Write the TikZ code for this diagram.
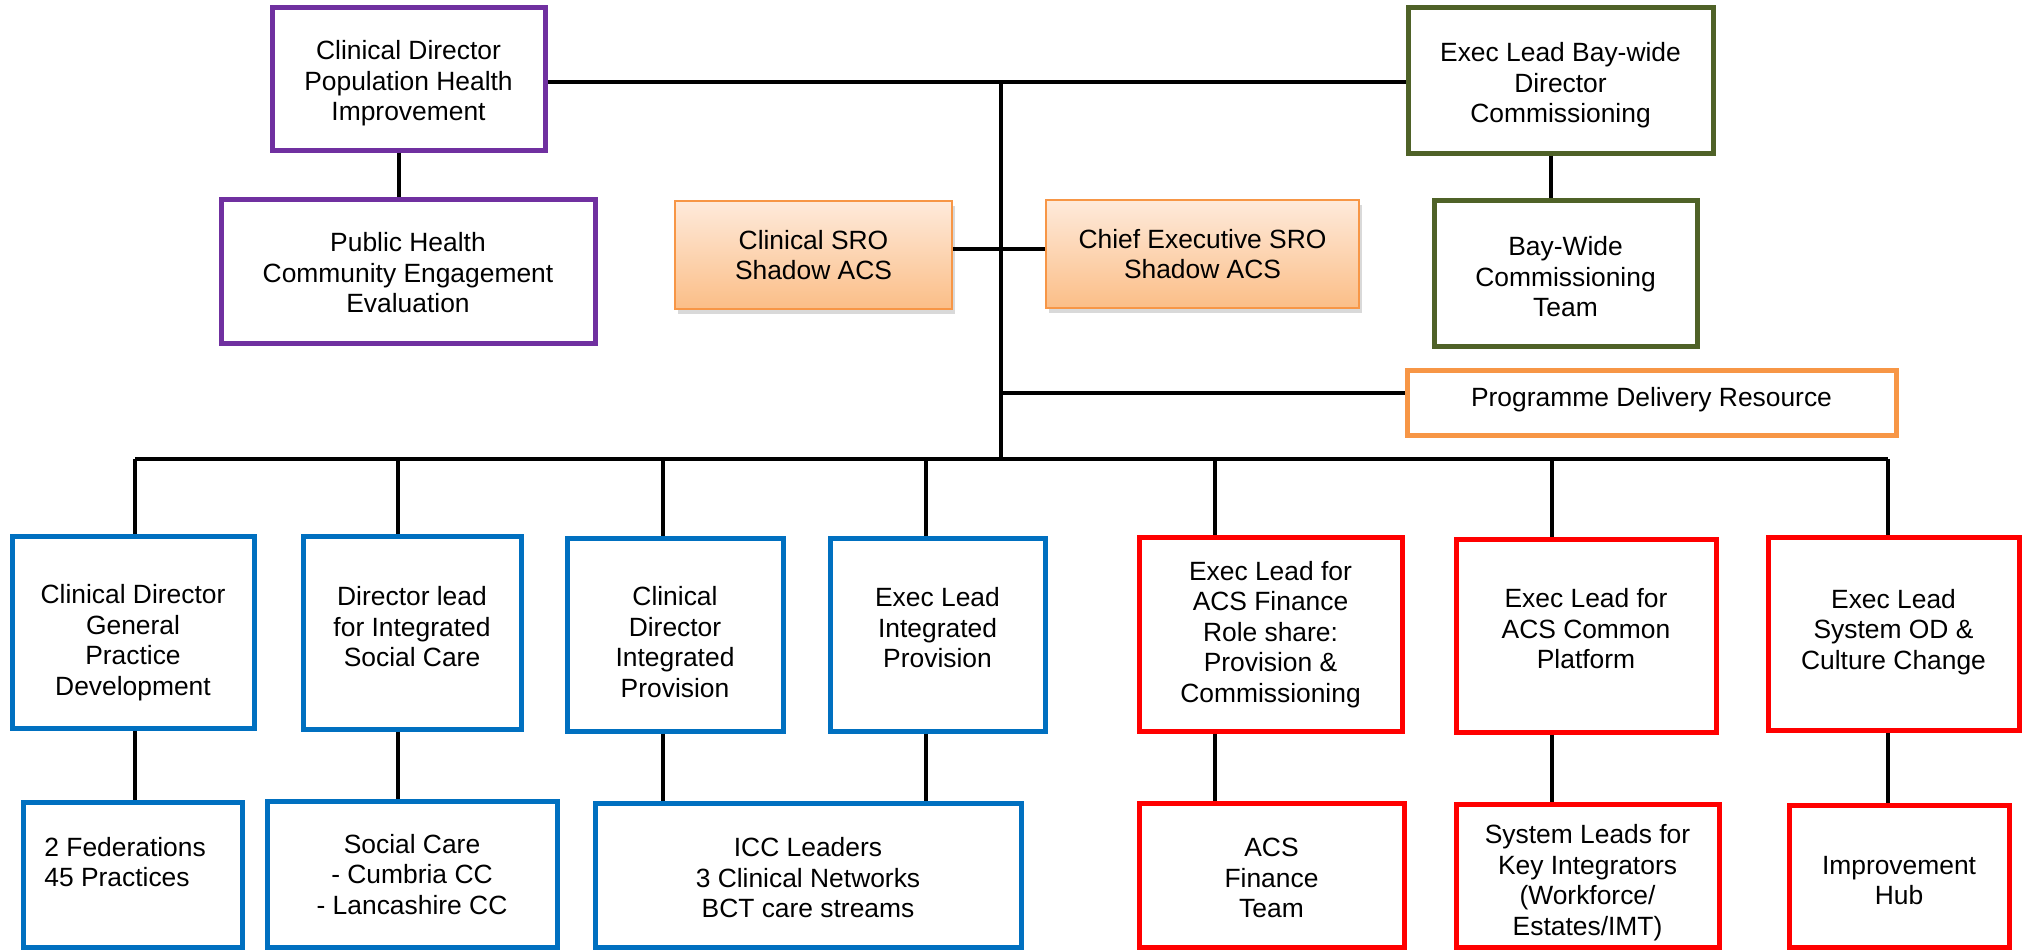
\documentclass[tikz,border=0pt]{standalone}
\usepackage{fontspec}
\setmainfont{Liberation Sans}
\usetikzlibrary{shadows}
\definecolor{cpurple}{HTML}{7030A0}
\definecolor{cgreen}{HTML}{4F6228}
\definecolor{cblue}{HTML}{0070C0}
\definecolor{cred}{HTML}{FF0000}
\definecolor{corange}{HTML}{F79646}
\definecolor{otop}{HTML}{FEEADB}
\definecolor{obot}{HTML}{FBBE87}
% text block moved vertically inside its box (positive = up)
\newcommand{\mvtext}[2]{\raisebox{#1}[\height][\depth]{\begin{tabular}{@{}c@{}}#2\end{tabular}}}
\begin{document}
\begin{tikzpicture}[x=0.5pt,y=-0.5pt,
  every node/.style={font=\fontsize{13.2pt}{15.25pt}\selectfont, align=center, inner sep=0pt},
  sz/.style 2 args={minimum width=#1*0.5pt, minimum height=#2*0.5pt},
  box/.style={draw, line width=2.5pt, fill=white},
  pbox/.style={box, draw=cpurple},
  gbox/.style={box, draw=cgreen},
  bbox/.style={box, draw=cblue},
  rbox/.style={box, draw=cred},
  obox/.style={box, draw=corange},
  sro/.style={draw=corange, line width=1pt, top color=otop, bottom color=obot,
              drop shadow={opacity=0.3, shadow xshift=1.5pt, shadow yshift=-2.5pt}},
  conn/.style={draw=black, line width=1.75pt}
]
\useasboundingbox (0,0) rectangle (2027,949);

% top section
\node[pbox, sz={273}{143}] (A) at (408.5,78.5) {\mvtext{-2.8pt}{Clinical Director\\Population Health\\Improvement}};
\node[pbox, sz={374}{144}] (B) at (408,271) {\mvtext{-2.6pt}{Public Health\\Community Engagement\\Evaluation}};
\node[gbox, sz={305}{146}] (C) at (1560.5,80) {\mvtext{-3pt}{Exec Lead Bay-wide\\Director\\Commissioning}};
\node[gbox, sz={263}{146}] (D) at (1565.5,273) {\mvtext{-3.5pt}{Bay-Wide\\Commissioning\\Team}};
\node[sro, sz={277}{108}] (E) at (813.5,255) {Clinical SRO\\Shadow ACS};
\node[sro, sz={313}{108}] (F) at (1202.5,254) {Chief Executive SRO\\Shadow ACS};
\node[obox, sz={489}{65}] (PDR) at (1651.5,402.5) {\mvtext{1pt}{Programme Delivery Resource}};

% second row
\node[bbox, sz={242}{192}] (G1) at (133,632) {\mvtext{-5.8pt}{Clinical Director\\General\\Practice\\Development}};
\node[bbox, sz={218}{193}] (G2) at (412,632.5) {\mvtext{1.2pt}{Director lead\\for Integrated\\Social Care}};
\node[bbox, sz={216}{193}] (G3) at (675,634.5) {\mvtext{-5.5pt}{Clinical\\Director\\Integrated\\Provision}};
\node[bbox, sz={215}{193}] (G4) at (937.5,634.5) {\mvtext{1.8pt}{Exec Lead\\Integrated\\Provision}};
\node[rbox, sz={263}{194}] (R1) at (1270.5,634) {\mvtext{-0.5pt}{Exec Lead for\\ACS Finance\\Role share:\\Provision \&\\Commissioning}};
\node[rbox, sz={260}{193}] (R2) at (1586,635.5) {\mvtext{1.8pt}{Exec Lead for\\ACS Common\\Platform}};
\node[rbox, sz={251}{193}] (R3) at (1893.5,633.5) {\mvtext{0.5pt}{Exec Lead\\System OD \&\\Culture Change}};

% bottom row
\node[bbox, sz={219}{145}] (H1) at (132.5,874.5) {};
\node[anchor=west, align=left] (H1t) at (44,862) {2 Federations\\45 Practices};
\node[bbox, sz={290}{146}] (H2) at (412,874) {\mvtext{-1.8pt}{Social Care\\- Cumbria CC\\- Lancashire CC}};
\node[bbox, sz={426}{144}] (H3) at (808,875) {\mvtext{-3pt}{ICC Leaders\\3 Clinical Networks\\BCT care streams}};
\node[rbox, sz={265}{144}] (RB1) at (1271.5,875) {\mvtext{-3pt}{ACS\\Finance\\Team}};
\node[rbox, sz={263}{143}] (RB2) at (1587.5,875.5) {\mvtext{-4pt}{System Leads for\\Key Integrators\\(Workforce/\\Estates/IMT)}};
\node[rbox, sz={220}{142}] (RB3) at (1899,876) {\mvtext{-3.6pt}{Improvement\\Hub}};

% junction coordinates
\coordinate (J0) at (1001,82);
\coordinate (JE) at (1001,249);
\coordinate (JP) at (1001,393);
\coordinate (J1) at (1001,459);
\coordinate (xAB) at (399,0);
\coordinate (xCD) at (1551,0);
\coordinate (b1) at (135,459);
\coordinate (b2) at (398,459);
\coordinate (b3) at (663,459);
\coordinate (b4) at (926,459);
\coordinate (b5) at (1215,459);
\coordinate (b6) at (1552,459);
\coordinate (b7) at (1888,459);

% connectors
\draw[conn] (A.east |- J0) -- (C.west |- J0);
\draw[conn] (J0) -- (J1);
\draw[conn] (E.east |- JE) -- (F.west |- JE);
\draw[conn] (JP) -- (PDR.west |- JP);
\draw[conn] (A.south -| xAB) -- (B.north -| xAB);
\draw[conn] (C.south -| xCD) -- (D.north -| xCD);
\draw[conn] (b1) -- (b7);
\foreach \b/\n in {b1/G1, b2/G2, b3/G3, b4/G4, b5/R1, b6/R2, b7/R3}
  \draw[conn] (\b) -- (\b |- \n.north);
\draw[conn] (G1.south -| b1) -- (H1.north -| b1);
\draw[conn] (G2.south -| b2) -- (H2.north -| b2);
\draw[conn] (G3.south -| b3) -- (H3.north -| b3);
\draw[conn] (G4.south -| b4) -- (H3.north -| b4);
\draw[conn] (R1.south -| b5) -- (RB1.north -| b5);
\draw[conn] (R2.south -| b6) -- (RB2.north -| b6);
\draw[conn] (R3.south -| b7) -- (RB3.north -| b7);
\end{tikzpicture}
\end{document}
